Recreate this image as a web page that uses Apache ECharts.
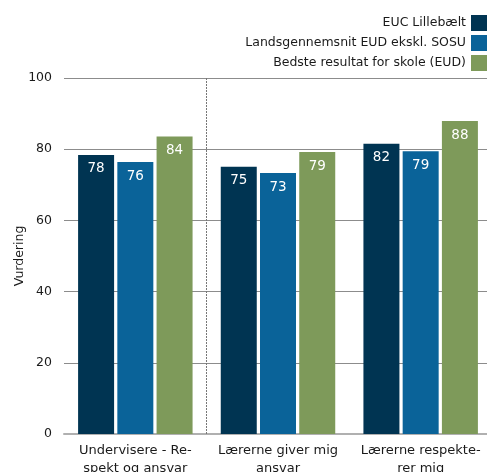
<!DOCTYPE html>
<html>
<head>
<meta charset="utf-8">
<script src="https://cdn.jsdelivr.net/npm/echarts@6/dist/echarts.min.js"></script>
<style>
html,body{margin:0;padding:0;background:#fff;}
#c{width:487px;height:472px;}
</style>
</head>
<body>
<div id="c"></div>
<script>
const categories = ['Undervisere - Re-\nspekt og ansvar', 'Lærerne giver mig\nansvar', 'Lærerne respekte-\nrer mig'];
const seriesNames = ['EUC Lillebælt', 'Landsgennemsnit EUD ekskl. SOSU', 'Bedste resultat for skole (EUD)'];
const euc = [78.4, 75.1, 81.5];
const lands = [76.4, 73.3, 79.4];
const bedste = [83.6, 79.2, 87.9];
const yTicks = [0, 20, 40, 60, 80, 100];
const dividerAt = [1];

const colors = ['#003452', '#0a6399', '#7e9a5a'];
const font = 'DejaVu Sans';
const chart = echarts.init(document.getElementById('c'));
const mk = (name, data, color) => ({
  name, type: 'bar', data, barWidth: 36, barGap: '9%',
  itemStyle: { color },
  label: {
    show: true, position: 'insideTop', distance: 7, color: '#fff',
    fontFamily: font, fontSize: 13.5,
    formatter: p => Math.round(p.value)
  }
});
chart.setOption({
  animation: false,
  textStyle: { fontFamily: font },
  legend: {
    orient: 'vertical', right: -7, top: 10, align: 'right',
    itemWidth: 18, itemHeight: 16, itemGap: 4, icon: 'rect',
    textStyle: { fontFamily: font, fontSize: 12.5, color: '#1a1a1a' },
    data: seriesNames
  },
  grid: { left: 64, right: -5, top: 78, bottom: 38, containLabel: false, outerBoundsMode: 'none' },
  xAxis: [{
    type: 'category', data: categories,
    axisLine: { lineStyle: { color: '#b0b0b0', width: 2 } },
    axisTick: { show: false },
    axisLabel: { fontFamily: font, fontSize: 13, color: '#1a1a1a', lineHeight: 18, margin: 8, interval: 0 },
    splitLine: { show: false }
  }, {
    type: 'value', min: 0, max: categories.length, show: false
  }],
  yAxis: {
    type: 'value', min: yTicks[0], max: yTicks[yTicks.length - 1], interval: 20,
    name: 'Vurdering', nameLocation: 'middle', nameGap: 38, nameMoveOverlap: false,
    nameTextStyle: { fontFamily: font, fontSize: 12.5, color: '#1a1a1a' },
    axisLine: { show: false }, axisTick: { show: false },
    axisLabel: { fontFamily: font, fontSize: 12.5, color: '#1a1a1a', margin: 12 },
    splitLine: { lineStyle: { color: '#8c8c8c', width: 1 } }
  },
  series: [
    mk(seriesNames[0], euc, colors[0]),
    mk(seriesNames[1], lands, colors[1]),
    mk(seriesNames[2], bedste, colors[2]),
    {
      type: 'line', xAxisIndex: 1, data: [], silent: true,
      markLine: {
        symbol: 'none', silent: true, label: { show: false },
        lineStyle: { type: [2, 1], color: '#777', width: 1 },
        data: dividerAt.map(v => ({ xAxis: v }))
      }
    }
  ]
});
</script>
</body>
</html>
